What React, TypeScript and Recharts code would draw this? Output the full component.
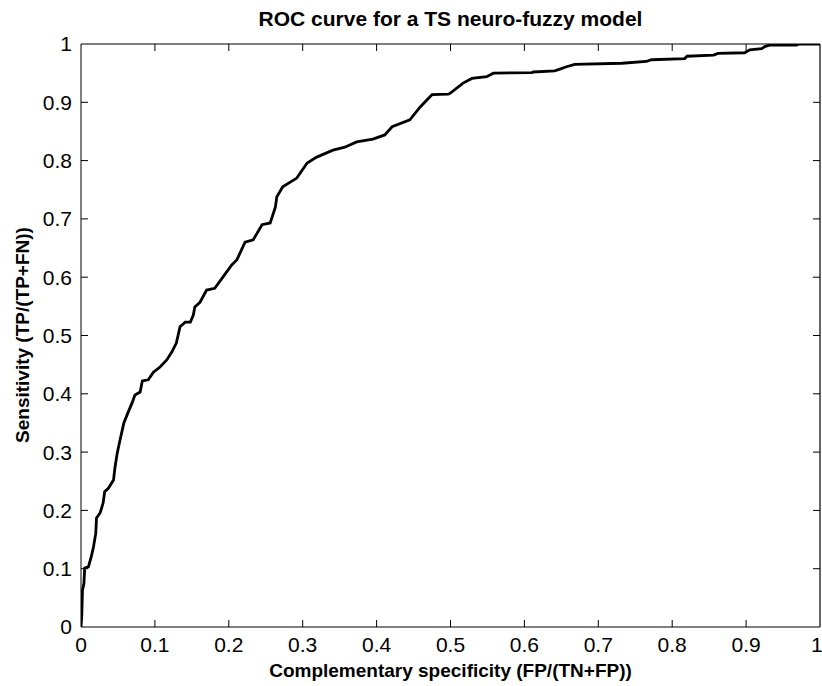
import React from 'react';
import { LineChart, Line, XAxis, YAxis, ReferenceLine } from 'recharts';

// ROC curve points
const fpr = [
  0, 0.001, 0.002, 0.004, 0.005, 0.01, 0.014, 0.017, 0.02, 0.021, 0.026, 0.03, 0.032, 0.037,
  0.044, 0.046, 0.049, 0.052, 0.055, 0.058, 0.064, 0.069, 0.073, 0.08, 0.083, 0.091, 0.098,
  0.107, 0.116, 0.123, 0.129, 0.134, 0.141, 0.148, 0.152, 0.154, 0.161, 0.17, 0.181, 0.192,
  0.204, 0.211, 0.222, 0.233, 0.245, 0.256, 0.263, 0.265, 0.273, 0.292, 0.306, 0.319, 0.341,
  0.357, 0.373, 0.395, 0.411, 0.421, 0.445, 0.459, 0.468, 0.475, 0.497, 0.499, 0.517, 0.529,
  0.549, 0.558, 0.61, 0.612, 0.641, 0.648, 0.657, 0.668, 0.732, 0.765, 0.772, 0.817, 0.82,
  0.856, 0.862, 0.898, 0.905, 0.921, 0.926, 0.932, 0.968, 0.972, 1,
];
const tpr = [
  0, 0.018, 0.063, 0.075, 0.101, 0.103, 0.121, 0.138, 0.161, 0.187, 0.196, 0.213, 0.232, 0.238,
  0.252, 0.274, 0.298, 0.316, 0.333, 0.35, 0.369, 0.384, 0.398, 0.403, 0.422, 0.424, 0.437,
  0.446, 0.458, 0.472, 0.487, 0.515, 0.523, 0.523, 0.535, 0.549, 0.557, 0.578, 0.581, 0.6,
  0.621, 0.63, 0.66, 0.664, 0.69, 0.693, 0.72, 0.738, 0.755, 0.77, 0.796, 0.806, 0.818,
  0.823, 0.832, 0.837, 0.844, 0.858, 0.87, 0.892, 0.904, 0.913, 0.914, 0.915, 0.933, 0.941,
  0.944, 0.95, 0.951, 0.952, 0.954, 0.957, 0.961, 0.965, 0.967, 0.97, 0.973, 0.975, 0.979,
  0.981, 0.984, 0.985, 0.99, 0.992, 0.996, 0.998, 0.998, 1, 1,
];
const ticks = [0, 0.1, 0.2, 0.3, 0.4, 0.5, 0.6, 0.7, 0.8, 0.9, 1];
const tickLabels = ['0', '0.1', '0.2', '0.3', '0.4', '0.5', '0.6', '0.7', '0.8', '0.9', '1'];

const FONT = '"Liberation Sans", Arial, Helvetica, sans-serif';
// inward tick length, in axis units (~7px)
const TX = 0.0095;
const TY = 0.012;

export default function App() {
  const data = fpr.map((x, i) => ({ fpr: x, tpr: tpr[i] }));
  const fmt = (v: number) => tickLabels[ticks.indexOf(v)] ?? String(v);
  const tickStyle = { fill: '#000', fontSize: 21, fontFamily: FONT };

  return (
    <div style={{ position: 'absolute', left: 0, top: 0, width: 822, height: 686, background: '#fff' }}>
      <div
        style={{
          position: 'absolute', left: 81, width: 739, top: 7, textAlign: 'center',
          fontFamily: FONT, fontWeight: 'bold', fontSize: 21, color: '#000',
        }}
      >
        ROC curve for a TS neuro-fuzzy model
      </div>
      <div
        style={{
          position: 'absolute', left: 81, width: 739, top: 660, textAlign: 'center',
          fontFamily: FONT, fontWeight: 'bold', fontSize: 19, color: '#000',
        }}
      >
        Complementary specificity (FP/(TN+FP))
      </div>
      <div
        style={{
          position: 'absolute', left: 23, top: 335, width: 400, textAlign: 'center',
          transform: 'translate(-50%, -50%) rotate(-90deg)',
          fontFamily: FONT, fontWeight: 'bold', fontSize: 19, color: '#000',
        }}
      >
        Sensitivity (TP/(TP+FN))
      </div>

      <LineChart width={822} height={686} data={data} margin={{ top: 44, right: 2, left: 21, bottom: 19 }}>
        <XAxis
          dataKey="fpr" type="number" domain={[0, 1]} ticks={ticks} tickFormatter={fmt}
          stroke="#000" tickLine={false} tickSize={0} tickMargin={10} height={40} tick={tickStyle}
          allowDataOverflow
        />
        <YAxis
          type="number" domain={[0, 1]} ticks={ticks} tickFormatter={fmt}
          stroke="#000" tickLine={false} tickSize={0} tickMargin={9} width={60} tick={tickStyle}
          allowDataOverflow
        />
        {/* box */}
        <ReferenceLine y={1} stroke="#000" strokeWidth={1.2} ifOverflow="visible" />
        <ReferenceLine x={1} stroke="#000" strokeWidth={1.2} ifOverflow="visible" />
        {/* inward ticks on all four sides */}
        {ticks.slice(1, -1).map((t) => (
          <ReferenceLine key={`b${t}`} segment={[{ x: t, y: 0 }, { x: t, y: TY }]} stroke="#000" />
        ))}
        {ticks.slice(1, -1).map((t) => (
          <ReferenceLine key={`t${t}`} segment={[{ x: t, y: 1 }, { x: t, y: 1 - TY }]} stroke="#000" />
        ))}
        {ticks.slice(1, -1).map((t) => (
          <ReferenceLine key={`l${t}`} segment={[{ x: 0, y: t }, { x: TX, y: t }]} stroke="#000" />
        ))}
        {ticks.slice(1, -1).map((t) => (
          <ReferenceLine key={`r${t}`} segment={[{ x: 1, y: t }, { x: 1 - TX, y: t }]} stroke="#000" />
        ))}
        <Line
          type="linear" dataKey="tpr" stroke="#000" strokeWidth={2.8} dot={false}
          activeDot={false} isAnimationActive={false}
        />
      </LineChart>
    </div>
  );
}
